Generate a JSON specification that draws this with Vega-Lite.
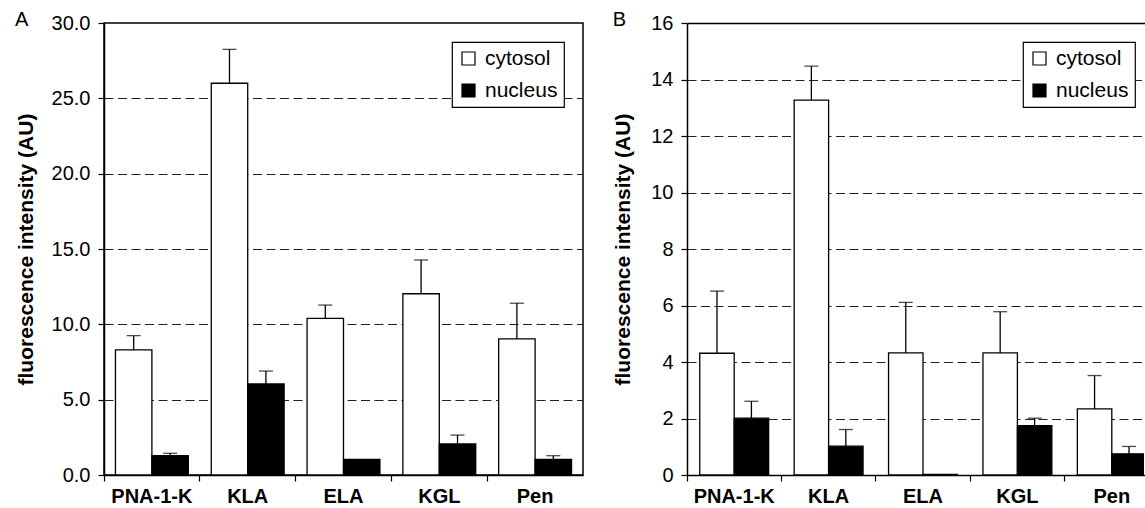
{
  "$schema": "https://vega.github.io/schema/vega-lite/v6.json",
  "background": "white",
  "padding": {"left": 14, "top": 9, "right": 0, "bottom": 0},
  "config": {
    "font": "Liberation Sans",
    "view": {"stroke": null},
    "axis": {"labelColor": "black", "titleColor": "black", "tickColor": "black", "domainColor": "black"},
    "legend": {
      "orient": "none", "title": null, "labelFontSize": 21, "labelFont": "Liberation Sans", "labelColor": "black",
      "symbolType": "square", "symbolSize": 169, "symbolStrokeColor": "black", "symbolStrokeWidth": 1.2,
      "strokeColor": "black", "strokeWidth": 1.2, "fillColor": "white", "padding": 6, "rowPadding": 10, "labelOffset": 6, "symbolOpacity": 1
    },
    "title": {"anchor": "start", "frame": "bounds", "fontSize": 20, "fontWeight": "normal", "color": "black", "baseline": "alphabetic", "offset": -17}
  },
  "datasets": {
    "a": [
      {"peptide": "PNA-1-K", "loc": "cytosol", "value": 8.3, "upper": 9.25},
      {"peptide": "PNA-1-K", "loc": "nucleus", "value": 1.28, "upper": 1.44},
      {"peptide": "KLA", "loc": "cytosol", "value": 26.0, "upper": 28.25},
      {"peptide": "KLA", "loc": "nucleus", "value": 6.04, "upper": 6.9},
      {"peptide": "ELA", "loc": "cytosol", "value": 10.4, "upper": 11.28},
      {"peptide": "ELA", "loc": "nucleus", "value": 1.04, "upper": null},
      {"peptide": "KGL", "loc": "cytosol", "value": 12.03, "upper": 14.27},
      {"peptide": "KGL", "loc": "nucleus", "value": 2.06, "upper": 2.65},
      {"peptide": "Pen", "loc": "cytosol", "value": 9.03, "upper": 11.4},
      {"peptide": "Pen", "loc": "nucleus", "value": 1.04, "upper": 1.28}
    ],
    "b": [
      {"peptide": "PNA-1-K", "loc": "cytosol", "value": 4.31, "upper": 6.51},
      {"peptide": "PNA-1-K", "loc": "nucleus", "value": 2.01, "upper": 2.61},
      {"peptide": "KLA", "loc": "cytosol", "value": 13.27, "upper": 14.47},
      {"peptide": "KLA", "loc": "nucleus", "value": 1.02, "upper": 1.61},
      {"peptide": "ELA", "loc": "cytosol", "value": 4.32, "upper": 6.11},
      {"peptide": "ELA", "loc": "nucleus", "value": 0.02, "upper": null},
      {"peptide": "KGL", "loc": "cytosol", "value": 4.32, "upper": 5.78},
      {"peptide": "KGL", "loc": "nucleus", "value": 1.75, "upper": 2.01},
      {"peptide": "Pen", "loc": "cytosol", "value": 2.34, "upper": 3.52},
      {"peptide": "Pen", "loc": "nucleus", "value": 0.75, "upper": 1.01}
    ]
  },
  "spacing": 28,
  "hconcat": [
    {
      "width": 479,
      "height": 452,
      "title": {"text": "A"},
      "view": {"stroke": "black", "strokeWidth": 1.5},
      "data": {"name": "a"},
      "encoding": {
        "x": {
          "field": "peptide", "type": "nominal", "sort": null,
          "scale": {"paddingInner": 0, "paddingOuter": 0},
          "axis": {"title": null, "labelAngle": 0, "bandPosition": 0, "labelFontSize": 20, "labelFontWeight": "bold", "tickSize": 6, "tickWidth": 1.2, "labelPadding": 5, "domain": true, "domainWidth": 1.5, "labelOverlap": false}
        },
        "xOffset": {"field": "loc", "type": "nominal", "sort": null, "scale": {"paddingInner": 0, "paddingOuter": 0.315}}
      },
      "layer": [
        {
          "mark": {"type": "bar", "stroke": "black", "strokeWidth": 1.3, "clip": true},
          "encoding": {
            "y": {
              "field": "value", "type": "quantitative",
              "scale": {"domain": [0, 30], "nice": false},
              "axis": {"orient": "left", "values": [0, 5, 10, 15, 20, 25, 30], "format": ".1f", "grid": false, "title": "fluorescence intensity (AU)", "titleFontSize": 21, "titleFontWeight": "bold", "titlePadding": 15, "labelFontSize": 20, "tickSize": 6, "tickWidth": 1.2, "labelPadding": 8, "domainWidth": 1.5}
            },
            "color": {
              "field": "loc", "type": "nominal",
              "scale": {"domain": ["cytosol", "nucleus"], "range": ["white", "black"]},
              "legend": {"legendX": 348, "legendY": 19}
            }
          }
        },
        {
          "transform": [{"filter": "isValid(datum.upper)"}],
          "mark": {"type": "rule", "color": "black", "strokeWidth": 1.3, "clip": true},
          "encoding": {
            "y": {
              "field": "value", "type": "quantitative",
              "axis": {"orient": "left", "values": [5, 10, 15, 20, 25], "grid": true, "gridDash": [9, 4.5], "gridColor": "#222", "gridWidth": 1, "labels": false, "ticks": false, "domain": false, "title": null}
            },
            "y2": {"field": "upper"}
          }
        },
        {
          "transform": [{"filter": "isValid(datum.upper)"}],
          "mark": {"type": "tick", "color": "black", "thickness": 1.3, "size": 14, "clip": true},
          "encoding": {
            "y": {"field": "upper", "type": "quantitative", "axis": null}
          }
        }
      ],
      "resolve": {"axis": {"y": "independent"}}
    },
    {
      "width": 457,
      "height": 452,
      "title": {"text": "B"},
      "data": {"name": "b"},
      "encoding": {
        "x": {
          "field": "peptide", "type": "nominal", "sort": null,
          "scale": {"paddingInner": 0, "paddingOuter": 0, "range": [0, 472]},
          "axis": {"title": null, "labelAngle": 0, "bandPosition": 0, "labelFontSize": 20, "labelFontWeight": "bold", "tickSize": 6, "tickWidth": 1.2, "labelPadding": 5, "domain": false, "labelOverlap": false}
        },
        "xOffset": {"field": "loc", "type": "nominal", "sort": null, "scale": {"paddingInner": 0, "paddingOuter": 0.37}}
      },
      "layer": [
        {
          "mark": {"type": "bar", "stroke": "black", "strokeWidth": 1.3, "clip": true},
          "encoding": {
            "y": {
              "field": "value", "type": "quantitative",
              "scale": {"domain": [0, 16], "nice": false},
              "axis": {"orient": "left", "values": [0, 2, 4, 6, 8, 10, 12, 14, 16], "format": "d", "grid": false, "title": "fluorescence intensity (AU)", "titleFontSize": 21, "titleFontWeight": "bold", "titlePadding": 17, "labelFontSize": 20, "tickSize": 6, "tickWidth": 1.2, "labelPadding": 8, "domainWidth": 1.5}
            },
            "color": {
              "field": "loc", "type": "nominal",
              "scale": {"domain": ["cytosol", "nucleus"], "range": ["white", "black"]},
              "legend": {"legendX": 336, "legendY": 19}
            }
          }
        },
        {
          "transform": [{"filter": "isValid(datum.upper)"}],
          "mark": {"type": "rule", "color": "black", "strokeWidth": 1.3, "clip": true},
          "encoding": {
            "y": {
              "field": "value", "type": "quantitative",
              "axis": {"orient": "left", "values": [2, 4, 6, 8, 10, 12, 14], "grid": true, "gridDash": [9, 4.5], "gridColor": "#222", "gridWidth": 1, "labels": false, "ticks": false, "domain": false, "title": null}
            },
            "y2": {"field": "upper"}
          }
        },
        {
          "transform": [{"filter": "isValid(datum.upper)"}],
          "mark": {"type": "tick", "color": "black", "thickness": 1.3, "size": 14, "clip": true},
          "encoding": {
            "y": {
              "field": "upper", "type": "quantitative",
              "axis": {"orient": "left", "values": [0, 16], "grid": true, "gridColor": "black", "gridWidth": 1.5, "labels": false, "ticks": false, "domain": false, "title": null}
            }
          }
        }
      ],
      "resolve": {"axis": {"y": "independent"}}
    }
  ],
  "resolve": {"scale": {"color": "independent", "x": "independent", "y": "independent", "xOffset": "independent"}, "legend": {"color": "independent"}}
}
